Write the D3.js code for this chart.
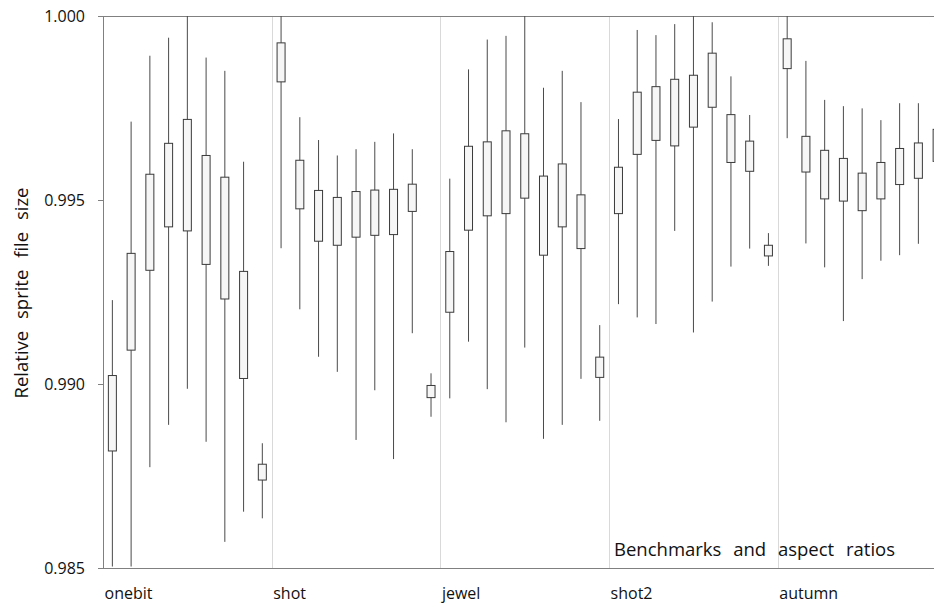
<!DOCTYPE html>
<html>
<head>
<meta charset="utf-8">
<script src="https://cdn.jsdelivr.net/npm/d3@7"></script>
<style>
  html, body { margin: 0; padding: 0; background: #fff; }
  svg { display: block; font-family: "Open Sans", sans-serif; }
</style>
</head>
<body>
<svg id="chart" width="934" height="603"></svg>
<script>
// DATA

const benchmarks = ['onebit', 'shot', 'jewel', 'shot2', 'autumn']
const ratioCount = 9 // aspect ratios per benchmark

// one entry per box, benchmark after benchmark
const highs = [
    0.99228, 0.99713, 0.99892, 0.99941, 1.00000, 0.99887, 0.99851, 0.99604, 0.98839,
    1.00000, 0.99725, 0.99663, 0.99621, 0.99638, 0.99658, 0.99681, 0.99638, 0.99029,
    0.99558, 0.99855, 0.99936, 0.99946, 1.00000, 0.99805, 0.99851, 0.99766, 0.99160,
    0.99720, 0.99962, 0.99948, 0.99978, 1.00000, 0.99983, 0.99836, 0.99731, 0.99410,
    1.00000, 0.99878, 0.99772, 0.99755, 0.99749, 0.99717, 0.99763, 0.99763, 0.99780
]
const upperQuartiles = [
    0.99023, 0.99355, 0.99570, 0.99654, 0.99719, 0.99621, 0.99562, 0.99306, 0.98782,
    0.99927, 0.99608, 0.99526, 0.99507, 0.99523, 0.99527, 0.99529, 0.99543, 0.98996,
    0.99360, 0.99646, 0.99658, 0.99688, 0.99680, 0.99565, 0.99598, 0.99514, 0.99073,
    0.99589, 0.99793, 0.99808, 0.99828, 0.99839, 0.99899, 0.99732, 0.99660, 0.99377,
    0.99938, 0.99673, 0.99635, 0.99613, 0.99573, 0.99602, 0.99640, 0.99655, 0.99692
]
const lowerQuartiles = [
    0.98818, 0.99092, 0.99309, 0.99427, 0.99416, 0.99325, 0.99231, 0.99015, 0.98739,
    0.99821, 0.99476, 0.99388, 0.99377, 0.99399, 0.99404, 0.99406, 0.99469, 0.98963,
    0.99195, 0.99418, 0.99457, 0.99463, 0.99505, 0.99350, 0.99427, 0.99368, 0.99018,
    0.99463, 0.99624, 0.99662, 0.99647, 0.99698, 0.99752, 0.99602, 0.99578, 0.99348,
    0.99857, 0.99576, 0.99503, 0.99497, 0.99471, 0.99503, 0.99542, 0.99559, 0.99605
]
const lows = [
    0.98504, 0.98504, 0.98774, 0.98889, 0.98987, 0.98843, 0.98571, 0.98653, 0.98635,
    0.99369, 0.99203, 0.99074, 0.99033, 0.98848, 0.98983, 0.98796, 0.99138, 0.98911,
    0.98961, 0.99115, 0.98986, 0.98896, 0.99099, 0.98851, 0.98889, 0.99014, 0.98900,
    0.99217, 0.99181, 0.99163, 0.99416, 0.99140, 0.99224, 0.99319, 0.99368, 0.99321,
    0.99668, 0.99382, 0.99317, 0.99171, 0.99285, 0.99335, 0.99350, 0.99381, 0.99400
]
const yTicks = [0.985, 0.990, 0.995, 1.000]

const boxes = highs.map((h, i) => ({
    benchmark: benchmarks[Math.floor(i / ratioCount)],
    ratio: i % ratioCount,
    high: h,
    q3: upperQuartiles[i],
    q1: lowerQuartiles[i],
    low: lows[i]
}))


// SVG, SCALES AND AXES

const svg = d3.select('#chart')
const margin = { top: 16, left: 103, bottom: 35 }
const height = 603
const groupWidth = 168.7 // the plot runs past the right edge of the picture

const xGroup = d3.scaleBand()
    .domain(benchmarks)
    .range([margin.left, margin.left + groupWidth * benchmarks.length])

const xRatio = d3.scaleBand()
    .domain(d3.range(ratioCount))
    .range([0, xGroup.bandwidth()])

const y = d3.scaleLinear()
    .domain([0.985, 1.000])
    .range([height - margin.bottom, margin.top])

const boxWidth = 8
const cx = d => xGroup(d.benchmark) + xRatio(d.ratio) + xRatio.bandwidth() / 2

// vertical separators between benchmarks
svg.append('g')
    .selectAll('line')
    .data(benchmarks.slice(1))
    .join('line')
    .attr('x1', d => Math.round(xGroup(d)) + 0.5)
    .attr('x2', d => Math.round(xGroup(d)) + 0.5)
    .attr('y1', y(1.0))
    .attr('y2', y(0.985))
    .attr('stroke', '#d9d9d9')

// top border
svg.append('line')
    .attr('x1', margin.left)
    .attr('x2', 934)
    .attr('y1', y(1.0) + 0.5)
    .attr('y2', y(1.0) + 0.5)
    .attr('stroke', '#808080')

// bottom axis line
svg.append('line')
    .attr('x1', margin.left)
    .attr('x2', 934)
    .attr('y1', y(0.985) + 0.5)
    .attr('y2', y(0.985) + 0.5)
    .attr('stroke', '#808080')

const yAxis = d3.axisLeft(y)
    .tickValues(yTicks)
    .tickFormat(d3.format('.3f'))
    .tickSizeInner(5)
    .tickSizeOuter(0)
    .tickPadding(13)

const yAxisGroup = svg.append('g')
    .attr('transform', `translate(${margin.left}, 0)`)
    .call(yAxis)
yAxisGroup.select('.domain').attr('stroke', '#808080')
yAxisGroup.selectAll('.tick line').attr('stroke', '#808080')
yAxisGroup.selectAll('.tick text')
    .attr('font-size', 16)
    .attr('font-family', '"Open Sans", sans-serif')
    .attr('fill', '#111')

// category labels, left aligned in their band
svg.append('g')
    .selectAll('text')
    .data(benchmarks)
    .join('text')
    .attr('x', d => xGroup(d) + 1.5)
    .attr('y', 599)
    .attr('font-size', 16)
    .attr('fill', '#111')
    .text(d => d)


// BOXES

const marks = svg.append('g')

marks.selectAll('.whisker')
    .data(boxes)
    .join('line')
    .attr('class', 'whisker')
    .attr('x1', cx)
    .attr('x2', cx)
    .attr('y1', d => y(d.high))
    .attr('y2', d => y(d.low))
    .attr('stroke', '#4a4a4a')
    .attr('stroke-width', 1)

marks.selectAll('.box')
    .data(boxes)
    .join('rect')
    .attr('class', 'box')
    .attr('x', d => cx(d) - boxWidth / 2)
    .attr('width', boxWidth)
    .attr('y', d => y(d.q3))
    .attr('height', d => y(d.q1) - y(d.q3))
    .attr('fill', '#f6f6f6')
    .attr('stroke', '#3a3a3a')
    .attr('stroke-width', 1)


// TITLES

svg.append('text')
    .attr('transform', 'translate(28, 293) rotate(-90)')
    .attr('text-anchor', 'middle')
    .attr('font-size', 18.5)
    .attr('word-spacing', 7)
    .attr('fill', '#111')
    .text('Relative sprite file size')

svg.append('text')
    .attr('x', 614)
    .attr('y', 556)
    .attr('font-size', 18.5)
    .attr('word-spacing', 7)
    .attr('fill', '#111')
    .text('Benchmarks and aspect ratios')
</script>
</body>
</html>
